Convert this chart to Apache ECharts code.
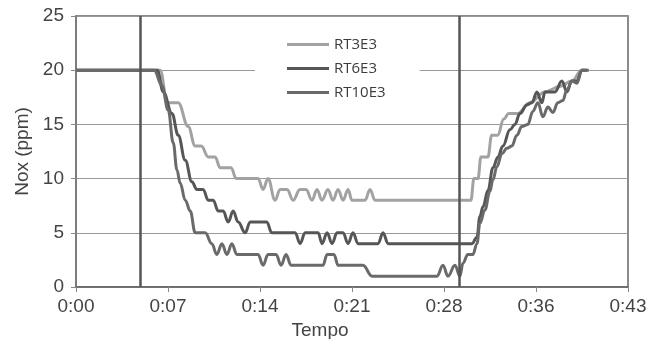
<!DOCTYPE html>
<html>
<head>
<meta charset="utf-8">
<script src="https://cdn.jsdelivr.net/npm/echarts@6/dist/echarts.min.js"></script>
<style>
  html, body { margin: 0; padding: 0; background: #fff; }
  #chart { width: 651px; height: 339px; }
</style>
</head>
<body>
<div id="chart"></div>
<script>
// tempo in minuti, valori NOx in ppm
const rt3Time = [0, 6.59, 7.14, 8.0, 8.78, 9.33, 9.8, 10.35, 10.89, 11.28, 12.14, 12.53, 14.25, 14.64, 15.03, 15.58, 15.97, 16.52, 16.99, 17.53, 18.0, 18.47, 18.86, 19.25, 19.72, 20.11, 20.51, 20.9, 21.29, 21.6, 22.62, 23.01, 23.4, 30.91, 31.14, 31.46, 31.69, 32.24, 32.53, 33.0, 33.48, 33.87, 34.57, 35.51, 36.69, 37.86, 38.8, 39.58, 39.97];
const rt3Nox = [20, 20, 17, 17, 14.8, 13, 13, 12, 12, 11, 11, 10, 10, 9, 10, 8, 9, 9, 8, 9, 9, 8, 9, 8, 9, 8, 9, 8, 9, 8, 8, 9, 8, 8, 10, 10, 12, 12, 14, 14, 15.5, 16, 16, 17, 18, 18.5, 19, 20, 20];

const rt6Time = [0, 6.36, 6.83, 7.51, 8.0, 8.55, 9.07, 9.46, 9.95, 10.35, 10.74, 11.13, 11.52, 11.91, 12.3, 12.69, 13.24, 13.63, 14.93, 15.32, 17.15, 17.54, 17.93, 18.95, 19.26, 19.65, 20.04, 20.43, 20.9, 21.29, 21.68, 22.07, 23.64, 24.03, 24.42, 30.99, 31.38, 31.61, 31.85, 32.24, 32.63, 33.02, 33.41, 33.96, 34.35, 34.74, 35.29, 35.68, 36.07, 36.46, 36.7, 37.48, 38.03, 38.42, 38.8, 39.2, 39.59, 39.98];
const rt6Nox = [20, 20, 18, 16, 14, 11.7, 9.7, 9, 9, 8, 8, 7, 7, 6, 7, 6, 5, 6, 6, 5, 5, 4, 5, 5, 4, 5, 4, 5, 5, 4, 5, 4, 4, 5, 4, 4, 4.6, 6.5, 7.4, 8.9, 11, 12, 13, 14.5, 15, 16, 16.8, 17, 18, 17, 18, 18, 19, 18, 19, 19, 20, 20];

const rt10Time = [0, 6.12, 6.72, 7.22, 7.61, 7.9, 8.15, 8.55, 8.94, 9.33, 10.11, 10.63, 11.02, 11.42, 11.81, 12.2, 12.59, 14.25, 14.64, 15.03, 15.66, 16.05, 16.44, 16.83, 19.33, 19.65, 20.19, 20.51, 22.46, 23.17, 28.25, 28.72, 29.11, 29.66, 30.05, 30.28, 30.67, 31.06, 31.38, 31.61, 32.0, 32.39, 32.63, 32.94, 33.33, 33.72, 34.11, 34.5, 34.89, 35.36, 35.75, 36.15, 36.54, 36.93, 37.32, 37.71, 38.1, 38.42, 38.81, 39.2, 39.59, 40.13];
const rt10Nox = [20, 20, 18.6, 16.3, 13.3, 10.8, 9.6, 8, 7, 5, 5, 4, 3, 4, 3, 4, 3, 3, 2, 3, 3, 2, 3, 2, 2, 3, 3, 2, 2, 1, 1, 2, 1, 2, 1, 2.2, 3, 3, 4, 5.9, 7.1, 8.8, 9.9, 11.1, 12.3, 12.8, 13, 14, 14.8, 15, 16.2, 17, 15.7, 16.6, 16.1, 17, 17.2, 18.2, 19, 18.8, 20, 20];

const seriesNames = ['RT3E3', 'RT6E3', 'RT10E3'];
const markTimes = [5, 30];

const zip = (t, v) => t.map((x, i) => [x, v[i]]);

const chart = echarts.init(document.getElementById('chart'));

const lineSeries = (name, data, color) => ({
    name: name,
    type: 'line',
    data: data,
    symbol: 'none',
    smooth: 0.4,
    smoothMonotone: 'x',
    lineStyle: { color: color, width: 3 },
    itemStyle: { color: color }
});

const font = 'Liberation Sans, Arial, sans-serif';

chart.setOption({
    animation: false,
    textStyle: { fontFamily: font },
    grid: {
        left: 76, right: 23, top: 16, bottom: 52,
        outerBoundsMode: 'none',
        containLabel: false,
        show: true,
        borderColor: '#666',
        borderWidth: 1.5
    },
    legend: {
        orient: 'vertical',
        left: 255,
        top: 31,
        padding: [6, 34, 6, 32],
        itemGap: 9,
        itemWidth: 42,
        itemHeight: 3,
        icon: 'rect',
        backgroundColor: '#fff',
        textStyle: { fontFamily: 'Open Sans, sans-serif', fontSize: 15, color: '#3c3c3c' },
        data: seriesNames
    },
    //asse x: tempo
    xAxis: {
        type: 'value',
        min: 0,
        max: 43.2,
        interval: 7.2,
        name: 'Tempo',
        nameLocation: 'middle',
        nameGap: 30,
        nameTextStyle: { fontSize: 19, color: '#444', padding: [0, 64, 0, 0] },
        axisLine: { lineStyle: { color: '#666', width: 1.5 } },
        axisTick: { show: true, length: 5, lineStyle: { color: '#888' } },
        axisLabel: {
            fontSize: 19,
            color: '#444',
            margin: 10,
            formatter: v => '0:' + String(Math.floor(v + 1e-6)).padStart(2, '0')
        },
        splitLine: { show: false }
    },
    //asse y: NOx
    yAxis: {
        type: 'value',
        min: 0,
        max: 25,
        interval: 5,
        name: 'Nox (ppm)',
        nameLocation: 'middle',
        nameGap: 44,
        nameTextStyle: { fontSize: 19, color: '#444' },
        axisLine: { show: true, lineStyle: { color: '#777', width: 1.5 } },
        axisTick: { show: true, length: 5, lineStyle: { color: '#888' } },
        axisLabel: { fontSize: 19, color: '#444', margin: 12 },
        splitLine: { lineStyle: { color: '#9a9a9a', width: 1 } }
    },
    series: [
        Object.assign(lineSeries(seriesNames[0], zip(rt3Time, rt3Nox), '#a2a2a2'), {
            markLine: {
                silent: true,
                symbol: 'none',
                label: { show: false },
                lineStyle: { color: '#555', width: 2.5, type: 'solid' },
                data: markTimes.map(t => ({ xAxis: t }))
            }
        }),
        lineSeries(seriesNames[1], zip(rt6Time, rt6Nox), '#565656'),
        lineSeries(seriesNames[2], zip(rt10Time, rt10Nox), '#6a6a6a')
    ]
});
</script>
</body>
</html>
